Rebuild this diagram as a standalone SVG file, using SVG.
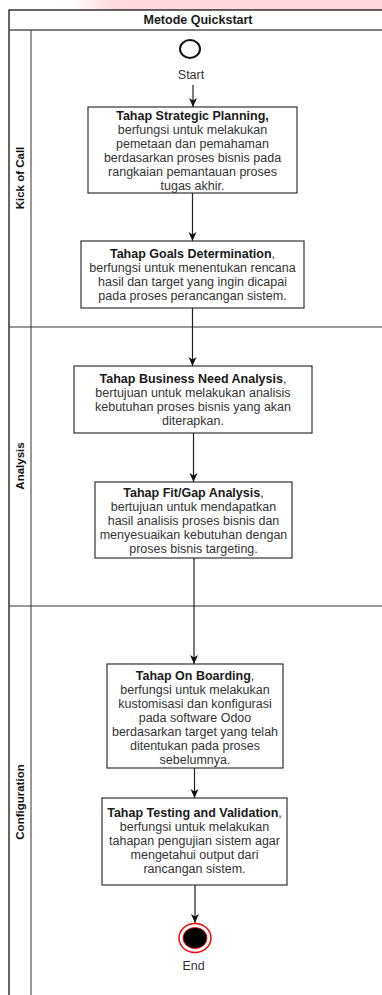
<svg xmlns="http://www.w3.org/2000/svg" width="382" height="995" viewBox="0 0 382 995">
<defs>
<linearGradient id="pink" x1="70" y1="0" x2="115" y2="0" gradientUnits="userSpaceOnUse">
<stop offset="0" stop-color="#ffd9dd" stop-opacity="0"/>
<stop offset="1" stop-color="#ffd9dd" stop-opacity="1"/>
</linearGradient>
<marker id="arr" markerUnits="userSpaceOnUse" markerWidth="10" markerHeight="10" refX="9" refY="4" orient="auto">
<path d="M0,0 L9,4 L0,8 L2.5,4 Z" fill="#111"/>
</marker>
</defs>
<style>
.t{font-family:"Liberation Sans",Arial,sans-serif;font-size:12.5px;fill:#333;text-anchor:middle}
.b{font-weight:bold;fill:#1a1a1a}
.lane{font-family:"Liberation Sans",Arial,sans-serif;font-size:11.5px;font-weight:bold;fill:#111;text-anchor:middle}
.box{fill:#fff;stroke:#333;stroke-width:1.2}
.edge{stroke:#222;stroke-width:1.2;fill:none;marker-end:url(#arr)}
</style>
<rect x="0" y="0" width="382" height="995" fill="#fff"/>
<rect x="60" y="0" width="322" height="10" fill="url(#pink)"/>
<g id="pool">
<rect x="9" y="10" width="400" height="990" fill="#fff" stroke="#000" stroke-width="1.2"/>
<line x1="9" y1="30" x2="382" y2="30" stroke="#555" stroke-width="1.6"/>
<line x1="31" y1="30" x2="31" y2="995" stroke="#555" stroke-width="1.2"/>
<line x1="9" y1="327" x2="382" y2="327" stroke="#333" stroke-width="1.2"/>
<line x1="9" y1="606" x2="382" y2="606" stroke="#333" stroke-width="1.2"/>
<text class="t b" x="198" y="24">Metode Quickstart</text>
</g>
<g id="lane-kick">
<text class="lane" transform="translate(24,178) rotate(-90)">Kick of Call</text>
</g>
<g id="lane-analysis">
<text class="lane" transform="translate(24,466) rotate(-90)">Analysis</text>
</g>
<g id="lane-config">
<text class="lane" transform="translate(24,802) rotate(-90)">Configuration</text>
</g>
<g id="connectors">
<line class="edge" x1="193" y1="85" x2="193" y2="107"/>
<line class="edge" x1="192.5" y1="193" x2="192.5" y2="241"/>
<line class="edge" x1="192.5" y1="308" x2="192.5" y2="366"/>
<line class="edge" x1="193.5" y1="433" x2="193.5" y2="482"/>
<line class="edge" x1="194" y1="558" x2="194" y2="664"/>
<line class="edge" x1="194.5" y1="768" x2="194.5" y2="798"/>
<line class="edge" x1="195" y1="885" x2="195" y2="923"/>
</g>
<g id="start">
<ellipse cx="190" cy="49" rx="10" ry="9" fill="#fff" stroke="#111" stroke-width="2"/>
<text class="t" x="191" y="79">Start</text>
</g>
<g id="strategic-planning">
<rect class="box" x="88" y="107" width="209" height="86"/>
<text class="t" x="192.5" y="119.5"><tspan class="b">Tahap Strategic Planning,</tspan><tspan x="192.5" dy="14">berfungsi untuk melakukan</tspan><tspan x="192.5" dy="14">pemetaan dan pemahaman</tspan><tspan x="192.5" dy="14">berdasarkan proses bisnis pada</tspan><tspan x="192.5" dy="14">rangkaian pemantauan proses</tspan><tspan x="192.5" dy="14">tugas akhir.</tspan></text>
</g>
<g id="goals-determination">
<rect class="box" x="81" y="241" width="223" height="67"/>
<text class="t" x="192.5" y="257.5"><tspan class="b">Tahap Goals Determination</tspan>,<tspan x="192.5" dy="14">berfungsi untuk menentukan rencana</tspan><tspan x="192.5" dy="14">hasil dan target yang ingin dicapai</tspan><tspan x="192.5" dy="14">pada proses perancangan sistem.</tspan></text>
</g>
<g id="business-need">
<rect class="box" x="74" y="366" width="238" height="67"/>
<text class="t" x="193" y="383"><tspan class="b">Tahap Business Need Analysis</tspan>,<tspan x="193" dy="14">bertujuan untuk melakukan analisis</tspan><tspan x="193" dy="14">kebutuhan proses bisnis yang akan</tspan><tspan x="193" dy="14">diterapkan.</tspan></text>
</g>
<g id="fit-gap">
<rect class="box" x="95" y="482" width="197" height="76"/>
<text class="t" x="193.5" y="497"><tspan class="b">Tahap Fit/Gap Analysis</tspan>,<tspan x="193.5" dy="14">bertujuan untuk mendapatkan</tspan><tspan x="193.5" dy="14">hasil analisis proses bisnis dan</tspan><tspan x="193.5" dy="14">menyesuaikan kebutuhan dengan</tspan><tspan x="193.5" dy="14">proses bisnis targeting.</tspan></text>
</g>
<g id="on-boarding">
<rect class="box" x="107" y="664" width="176" height="104"/>
<text class="t" x="195" y="679.5"><tspan class="b">Tahap On Boarding</tspan>,<tspan x="195" dy="14">berfungsi untuk melakukan</tspan><tspan x="195" dy="14">kustomisasi dan konfigurasi</tspan><tspan x="195" dy="14">pada software Odoo</tspan><tspan x="195" dy="14">berdasarkan target yang telah</tspan><tspan x="195" dy="14">ditentukan pada proses</tspan><tspan x="195" dy="14">sebelumnya.</tspan></text>
</g>
<g id="testing-validation">
<rect class="box" x="102" y="798" width="185" height="87"/>
<text class="t" x="194.5" y="817"><tspan class="b">Tahap Testing and Validation</tspan>,<tspan x="194.5" dy="14">berfungsi untuk melakukan</tspan><tspan x="194.5" dy="14">tahapan pengujian sistem agar</tspan><tspan x="194.5" dy="14">mengetahui output dari</tspan><tspan x="194.5" dy="14">rancangan sistem.</tspan></text>
</g>
<g id="end">
<ellipse cx="195" cy="938" rx="16" ry="14.5" fill="#fff" stroke="#f00" stroke-width="1.5"/>
<ellipse cx="195" cy="938" rx="12" ry="10.5" fill="#000" stroke="#f00" stroke-width="0.8"/>
<text class="t" x="193.5" y="970">End</text>
</g>
</svg>
